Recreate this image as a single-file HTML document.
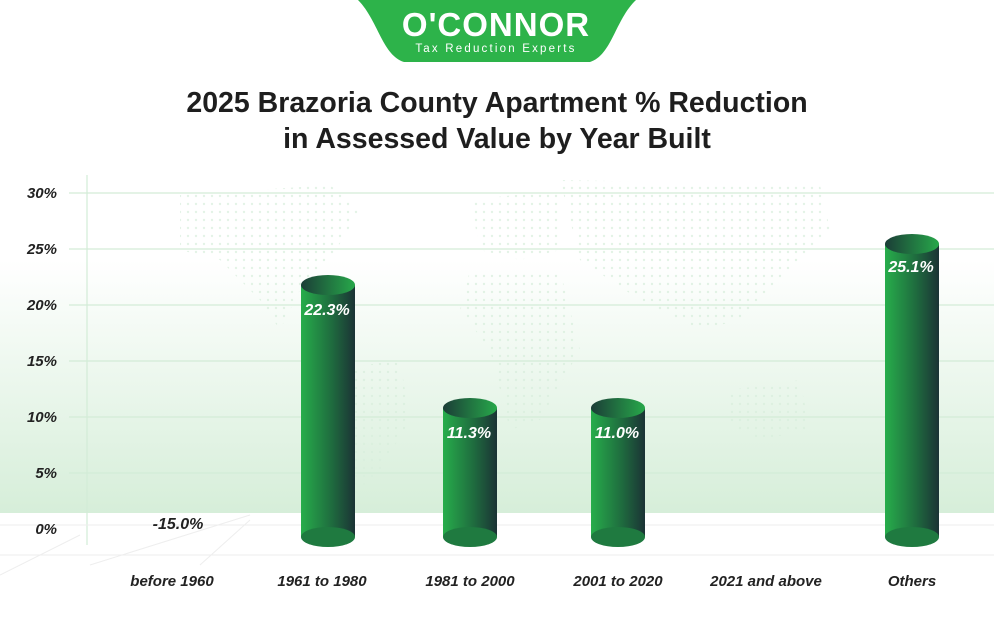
<!DOCTYPE html>
<html><head><meta charset="utf-8"><style>
body{margin:0;width:994px;height:612px;overflow:hidden;background:#fff;font-family:"Liberation Sans",sans-serif}
</style></head><body>
<svg width="994" height="612" viewBox="0 0 994 612" xmlns="http://www.w3.org/2000/svg">
<defs>
<linearGradient id="bg" x1="0" y1="0" x2="0" y2="1">
<stop offset="0" stop-color="#fff"/><stop offset="1" stop-color="#d6eed9"/></linearGradient>
<linearGradient id="bar" x1="0" y1="0" x2="1" y2="0">
<stop offset="0" stop-color="#27ad4b"/><stop offset="0.55" stop-color="#1f6e3f"/><stop offset="1" stop-color="#1b3335"/></linearGradient>
<linearGradient id="top" x1="0" y1="0" x2="1" y2="0">
<stop offset="0" stop-color="#1b3d37"/><stop offset="1" stop-color="#27a84a"/></linearGradient>
<pattern id="dots" width="8" height="8" patternUnits="userSpaceOnUse"><circle cx="4" cy="4" r="1.2" fill="#d8eedc"/></pattern>
</defs>
<rect x="0" y="260" width="994" height="253" fill="url(#bg)"/>
<g opacity="0.7">
<path d="M180 195 L330 185 L360 210 L330 260 L300 290 L280 330 L260 300 L220 260 L180 250Z" fill="url(#dots)"/>
<path d="M330 370 L400 360 L410 420 L380 470 L350 500 L340 430Z" fill="url(#dots)"/>
<path d="M470 200 L560 190 L560 250 L520 260 L480 250Z" fill="url(#dots)"/>
<path d="M470 270 L560 270 L580 350 L540 420 L510 430 L490 350 L460 310Z" fill="url(#dots)"/>
<path d="M560 180 L820 185 L830 230 L780 280 L740 320 L700 330 L640 300 L580 260Z" fill="url(#dots)"/>
<path d="M730 390 L800 380 L810 430 L760 440 L730 425Z" fill="url(#dots)"/>
</g>
<!-- logo -->
<path d="M358 0 L636 0 C615 20 612 55 590 62 L404 62 C382 55 378 20 358 0Z" fill="#2db34a"/>
<text x="496" y="36" text-anchor="middle" fill="#fff" font-size="33" font-weight="bold" letter-spacing="1">O'CONNOR</text>
<text x="496" y="52" text-anchor="middle" fill="#fff" font-size="11.5" letter-spacing="2.2">Tax Reduction Experts</text>
<text x="497" y="112" text-anchor="middle" fill="#1e1e1e" font-size="28.5" font-weight="bold">2025 Brazoria County Apartment % Reduction</text>
<text x="497" y="148" text-anchor="middle" fill="#1e1e1e" font-size="28.5" font-weight="bold">in Assessed Value by Year Built</text>
<g stroke="#d3ecd7" stroke-width="1.2">
<line x1="69" y1="193" x2="994" y2="193"/><line x1="69" y1="249" x2="994" y2="249"/>
<line x1="69" y1="305" x2="994" y2="305"/><line x1="69" y1="361" x2="994" y2="361"/>
<line x1="69" y1="417" x2="994" y2="417"/><line x1="69" y1="473" x2="994" y2="473"/>
<line x1="87" y1="175" x2="87" y2="545"/>
</g>
<g stroke="#eeeeee" stroke-width="1">
<line x1="0" y1="525" x2="994" y2="525"/><line x1="0" y1="555" x2="994" y2="555"/>
<line x1="0" y1="575" x2="80" y2="535"/><line x1="90" y1="565" x2="250" y2="515"/><line x1="200" y1="565" x2="250" y2="520"/>
</g>
<g font-size="15" font-style="italic" font-weight="bold" fill="#222" text-anchor="end">
<text x="57" y="198">30%</text><text x="57" y="254">25%</text><text x="57" y="310">20%</text>
<text x="57" y="366">15%</text><text x="57" y="422">10%</text><text x="57" y="478">5%</text><text x="57" y="534">0%</text>
</g>
<g>
<rect x="301" y="285" width="54" height="252" fill="url(#bar)"/>
<ellipse cx="328" cy="537" rx="27" ry="10" fill="#1f7a40"/>
<ellipse cx="328" cy="285" rx="27" ry="10" fill="url(#top)"/>
<rect x="443" y="408" width="54" height="129" fill="url(#bar)"/>
<ellipse cx="470" cy="537" rx="27" ry="10" fill="#1f7a40"/>
<ellipse cx="470" cy="408" rx="27" ry="10" fill="url(#top)"/>
<rect x="591" y="408" width="54" height="129" fill="url(#bar)"/>
<ellipse cx="618" cy="537" rx="27" ry="10" fill="#1f7a40"/>
<ellipse cx="618" cy="408" rx="27" ry="10" fill="url(#top)"/>
<rect x="885" y="244" width="54" height="293" fill="url(#bar)"/>
<ellipse cx="912" cy="537" rx="27" ry="10" fill="#1f7a40"/>
<ellipse cx="912" cy="244" rx="27" ry="10" fill="url(#top)"/>
</g>
<g font-size="16" font-style="italic" font-weight="bold" fill="#fff" text-anchor="middle">
<text x="327" y="315">22.3%</text><text x="469" y="438">11.3%</text><text x="617" y="438">11.0%</text><text x="911" y="272">25.1%</text>
</g>
<text x="178" y="529" text-anchor="middle" font-size="16" font-style="italic" font-weight="bold" fill="#222">-15.0%</text>
<g font-size="15" font-style="italic" font-weight="bold" fill="#222" text-anchor="middle">
<text x="172" y="586">before 1960</text><text x="322" y="586">1961 to 1980</text><text x="470" y="586">1981 to 2000</text>
<text x="618" y="586">2001 to 2020</text><text x="766" y="586">2021 and above</text><text x="912" y="586">Others</text>
</g>
</svg>
</body></html>
